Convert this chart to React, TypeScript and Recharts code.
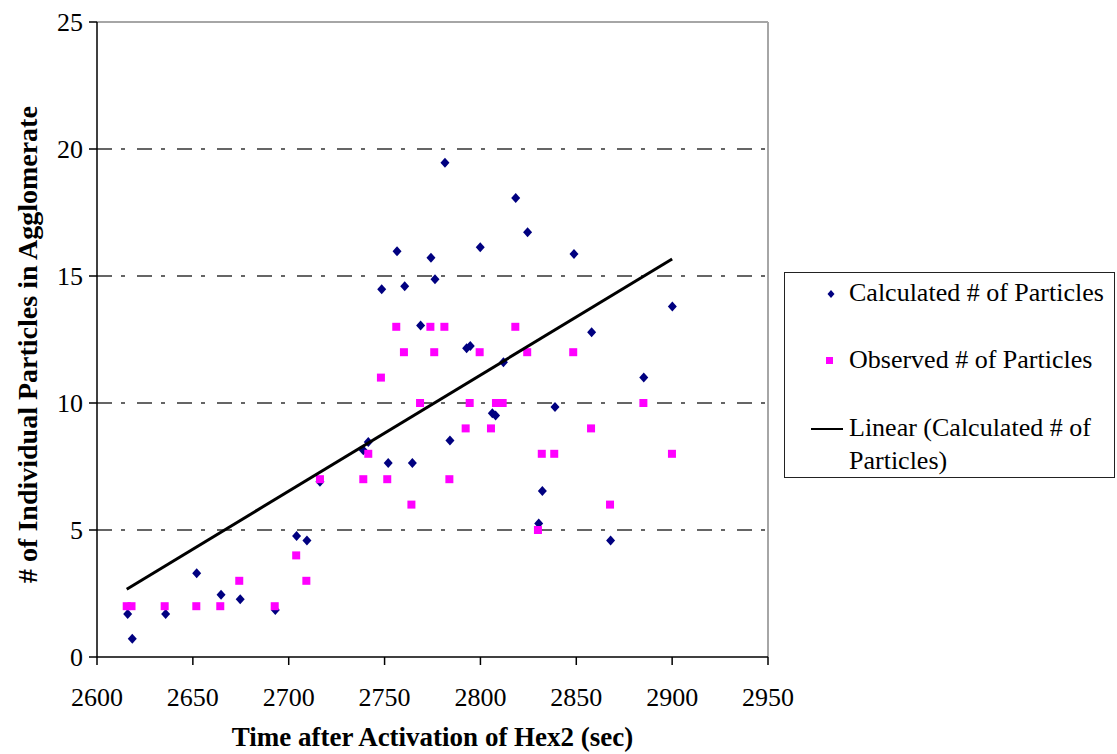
import {
  ScatterChart,
  Scatter,
  XAxis,
  YAxis,
  CartesianGrid,
  ReferenceLine,
  Legend,
} from "recharts";

// Calculated # of particles (blue diamonds)
const calcTime = [
  2616, 2618.4, 2635.8, 2652, 2664.7, 2674.7, 2693, 2704.1, 2709.5, 2716.3,
  2738.9, 2741.5, 2748.5, 2751.9, 2756.5, 2760.5, 2764.5, 2768.8, 2774.2, 2776.3,
  2781.5, 2784.1, 2792.8, 2794.7, 2799.9, 2806.2, 2807.9, 2812, 2818.4, 2824.6,
  2830.4, 2832.3, 2838.9, 2848.8, 2858, 2867.9, 2885.2, 2900.1,
];
const calcCount = [
  1.69, 0.72, 1.69, 3.3, 2.45, 2.27, 1.85, 4.76, 4.59, 6.9,
  8.14, 8.46, 14.48, 7.64, 15.97, 14.6, 7.64, 13.05, 15.72, 14.87,
  19.46, 8.52, 12.16, 12.24, 16.13, 9.6, 9.51, 11.6, 18.07, 16.72,
  5.26, 6.54, 9.84, 15.87, 12.79, 4.59, 11.0, 13.8,
];

// Observed # of particles (magenta squares)
const obsTime = [
  2615.5, 2618, 2635.3, 2651.8, 2664.3, 2674.2, 2692.7, 2703.9, 2709.2, 2716.3,
  2738.9, 2741.5, 2748.1, 2751.4, 2756.1, 2760.1, 2764, 2768.5, 2773.9, 2775.9,
  2781.2, 2783.8, 2792.3, 2794.4, 2799.6, 2805.5, 2808.1, 2811.6, 2818.2, 2824.4,
  2830, 2832, 2838.5, 2848.4, 2857.7, 2867.6, 2885, 2899.9,
];
const obsCount = [
  2, 2, 2, 2, 2, 3, 2, 4, 3, 7,
  7, 8, 11, 7, 13, 12, 6, 10, 13, 12,
  13, 7, 9, 10, 12, 9, 10, 10, 13, 12,
  5, 8, 8, 12, 9, 6, 10, 8,
];

// Linear trendline of the calculated series (end points)
const trendTime = [2615.5, 2900];
const trendCount = [2.67, 15.67];

const xTicks = [2600, 2650, 2700, 2750, 2800, 2850, 2900, 2950];
const yTicks = [0, 5, 10, 15, 20, 25];

const calcData = calcTime.map((x, i) => ({ x, y: calcCount[i] }));
const obsData = obsTime.map((x, i) => ({ x, y: obsCount[i] }));
const trendData = trendTime.map((x, i) => ({ x, y: trendCount[i] }));

const FONT = "'Liberation Serif', 'Times New Roman', serif";
const NAVY = "#000080";
const MAGENTA = "#FF00FF";

function Diamond(props: any) {
  const { cx, cy } = props;
  return (
    <polygon
      points={`${cx},${cy - 5} ${cx + 4.5},${cy} ${cx},${cy + 5} ${cx - 4.5},${cy}`}
      fill={NAVY}
    />
  );
}

function Square(props: any) {
  const { cx, cy } = props;
  return <rect x={cx - 4} y={cy - 4} width={8} height={8} fill={MAGENTA} />;
}

function YTitle(props: any) {
  const { viewBox } = props;
  const x = viewBox.x;
  const y = viewBox.y + viewBox.height / 2 + 5;
  return (
    <text
      x={x}
      y={y}
      transform={`rotate(-90, ${x}, ${y})`}
      textAnchor="middle"
      style={{ fontFamily: FONT, fontSize: 28, fontWeight: "bold" }}
      fill="#000"
    >
      # of Individual Particles in Agglomerate
    </text>
  );
}

function LegendBox() {
  const text = { position: "absolute" as const, left: 64, lineHeight: "30px", whiteSpace: "nowrap" as const };
  return (
    <div
      style={{
        position: "relative",
        width: 331,
        height: 206,
        boxSizing: "border-box",
        border: "1px solid #222",
        background: "#fff",
        fontFamily: FONT,
        fontSize: 26,
        color: "#000",
      }}
    >
      <svg style={{ position: "absolute", left: 0, top: 0 }} width={70} height={206}>
        <polygon points="46,17 49.5,21 46,25 42.5,21" fill={NAVY} />
        <rect x={41} y={84} width={7} height={7} fill={MAGENTA} />
        <line x1={26} y1={156} x2={58} y2={156} stroke="#000" strokeWidth={2} />
      </svg>
      <div style={{ ...text, top: 5 }}>Calculated # of Particles</div>
      <div style={{ ...text, top: 72 }}>Observed # of Particles</div>
      <div style={{ ...text, top: 140 }}>Linear (Calculated # of</div>
      <div style={{ ...text, top: 173 }}>Particles)</div>
    </div>
  );
}

export default function App() {
  return (
    <div style={{ position: "absolute", left: 0, top: 0, width: 1117, height: 754, background: "#fff" }}>
      <ScatterChart
        width={1117}
        height={754}
        margin={{ top: 22, right: 349, bottom: 37, left: 37 }}
      >
        <CartesianGrid
          horizontal
          vertical={false}
          horizontalValues={[5, 10, 15, 20]}
          stroke="#333"
          strokeWidth={1.5}
          strokeDasharray="15 9 4 12"
        />
        <XAxis
          type="number"
          dataKey="x"
          domain={[2600, 2950]}
          ticks={xTicks}
          interval={0}
          height={60}
          tickSize={8}
          tickMargin={23}
          axisLine={{ stroke: "#000", strokeWidth: 1.5 }}
          tickLine={{ stroke: "#000", strokeWidth: 1.5 }}
          tick={{ fontFamily: FONT, fontSize: 26, fill: "#000" }}
          allowDataOverflow
          label={{
            value: "Time after Activation of Hex2 (sec)",
            position: "bottom",
            offset: 10,
            style: { fontFamily: FONT, fontSize: 27, fontWeight: "bold", fill: "#000" },
          }}
        />
        <YAxis
          type="number"
          dataKey="y"
          domain={[0, 25]}
          ticks={yTicks}
          interval={0}
          width={60}
          tickSize={8}
          tickMargin={6}
          axisLine={{ stroke: "#000", strokeWidth: 1.5 }}
          tickLine={{ stroke: "#000", strokeWidth: 1.5 }}
          tick={{ fontFamily: FONT, fontSize: 26, fill: "#000" }}
          allowDataOverflow
          label={<YTitle />}
        />
        <ReferenceLine y={25} stroke="#a6a6a6" strokeWidth={2} />
        <ReferenceLine x={2950} stroke="#a6a6a6" strokeWidth={2} />
        <Legend
          layout="vertical"
          align="center"
          verticalAlign="middle"
          content={() => <LegendBox />}
          wrapperStyle={{ left: 784, top: 272, width: 331, height: 206, right: "auto", bottom: "auto" }}
        />
        <Scatter
          name="Calculated # of Particles"
          data={calcData}
          shape={Diamond}
          isAnimationActive={false}
        />
        <Scatter
          name="Observed # of Particles"
          data={obsData}
          shape={Square}
          isAnimationActive={false}
        />
        <Scatter
          name="Linear (Calculated # of Particles)"
          data={trendData}
          line={{ stroke: "#000", strokeWidth: 3 }}
          shape={() => <g />}
          isAnimationActive={false}
        />
      </ScatterChart>
    </div>
  );
}
